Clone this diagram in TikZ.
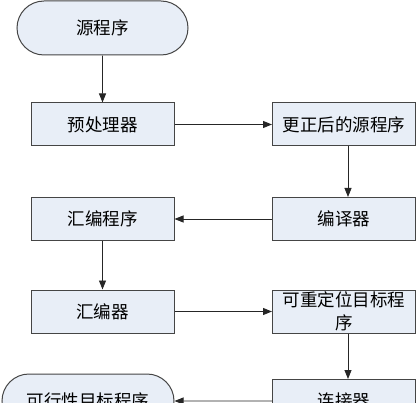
\documentclass[tikz,border=0pt]{standalone}
\usepackage{fontspec}
\setmainfont{Noto Sans CJK SC}
\usetikzlibrary{arrows.meta,shapes.misc}
\definecolor{boxfill}{HTML}{E8EEF7}
\definecolor{boxline}{HTML}{454545}
\tikzset{
	stepbox/.style={draw=boxline, fill=boxfill, line width=1pt, minimum width=143pt, minimum height=43pt, inner sep=1pt, align=center, font=\fontsize{17.5}{23}\selectfont},
	endbox/.style={stepbox, rounded rectangle, minimum width=173pt, minimum height=54pt},
	>={Triangle[length=9pt,width=7pt]},
	every edge/.style={draw=black!85, line width=0.8pt},
}
\begin{document}
\begin{tikzpicture}[x=1pt, y=-1pt]
			\clip (0,0) rectangle (417,403);
			\node (src) at (102.5,28)  [endbox] {源程序};
			\node (pre) at (102.5,124.5) [stepbox] {预处理器} edge [<-] (src);
			\node (cor) at (344,124.5) [stepbox] {更正后的源程序} edge [<-] (pre);
			\node (cmp) at (344,219)   [stepbox] {编译器};
			\node (asm) at (102.5,219) [stepbox] {汇编程序} edge [<-] (cmp);
			\node (asr) at (102.5,311.5) [stepbox] {汇编器} edge [<-] (asm);
			\node (rel) at (344,311.5) [stepbox] {可重定位目标程\\序} edge [<-] (asr);
			\node (lnk) at (344,401)   [stepbox] {连接器};
			\node (exe) at (88,401)    [endbox, minimum width=174pt] {可行性目标程序} edge [<-] (lnk);
			\draw[->, draw=black!85, line width=0.8pt] ([xshift=4pt]cor.south) -- ([xshift=4pt]cmp.north);
			\draw[->, draw=black!85, line width=0.8pt] ([xshift=4pt]rel.south) -- ([xshift=4pt]lnk.north);
		\end{tikzpicture}
\end{document}
